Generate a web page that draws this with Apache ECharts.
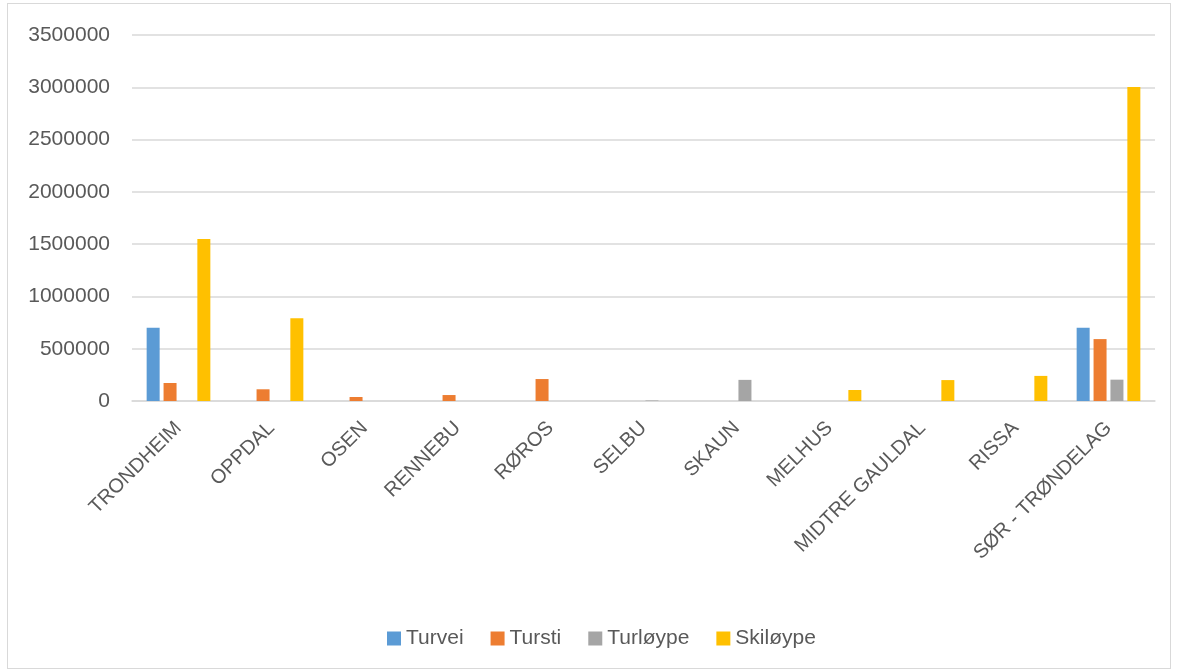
<!DOCTYPE html>
<html><head><meta charset="utf-8">
<script src="https://cdn.jsdelivr.net/npm/echarts@6/dist/echarts.min.js"></script>
<style>
html,body{margin:0;padding:0;background:#fff;}
#frame{position:absolute;left:7px;top:3px;width:1164px;height:666px;border:1px solid #d9d9d9;box-sizing:border-box;}
#c{position:absolute;left:0;top:0;width:1178px;height:672px;}
</style></head><body>
<div id="frame"></div>
<div id="c"></div>
<script>
var categories = ['TRONDHEIM','OPPDAL','OSEN','RENNEBU','RØROS','SELBU','SKAUN','MELHUS','MIDTRE GAULDAL','RISSA','SØR - TRØNDELAG'];
var turvei   = [700000, 0, 0, 0, 0, 0, 0, 0, 0, 0, 700000];
var tursti   = [172000, 112000, 38000, 57000, 210000, 0, 0, 0, 0, 0, 592000];
var turloype = [0, 0, 0, 0, 0, 5000, 202000, 0, 0, 0, 204000];
var skiloype = [1548000, 792000, 0, 0, 0, 0, 0, 105000, 200000, 240000, 3003000];
var yTicks = {min: 0, max: 3500000, interval: 500000};

var chart = echarts.init(document.getElementById('c'));
var font = 'Liberation Sans, Arial, sans-serif';
function s(name, data, color){
  return {name:name, type:'bar', data:data, barWidth:13, barGap:'30%',
    itemStyle:{color:color}, emphasis:{disabled:true}};
}
chart.setOption({
  animation:false,
  grid:{left:132, right:23, top:35, bottom:271, containLabel:false},
  legend:{bottom:18, left:382, itemWidth:14, itemHeight:14, itemGap:27, icon:'rect',
    textStyle:{color:'#595959', fontSize:21, fontFamily:font}},
  xAxis:{type:'category', data:categories,
    axisLine:{lineStyle:{color:'#d9d9d9', width:1.5}}, axisTick:{show:false},
    axisLabel:{rotate:45, interval:0, color:'#595959', fontSize:20, fontFamily:font, margin:24}},
  yAxis:{type:'value', min:yTicks.min, max:yTicks.max, interval:yTicks.interval,
    axisLine:{show:false}, axisTick:{show:false},
    splitLine:{lineStyle:{color:'#d9d9d9', width:1.5}},
    axisLabel:{color:'#595959', fontSize:21, fontFamily:font, margin:22,
      formatter:function(v){return String(v);}}},
  series:[s('Turvei',turvei,'#5B9BD5'), s('Tursti',tursti,'#ED7D31'), s('Turløype',turloype,'#A5A5A5'), s('Skiløype',skiloype,'#FFC000')]
});
</script></body></html>
